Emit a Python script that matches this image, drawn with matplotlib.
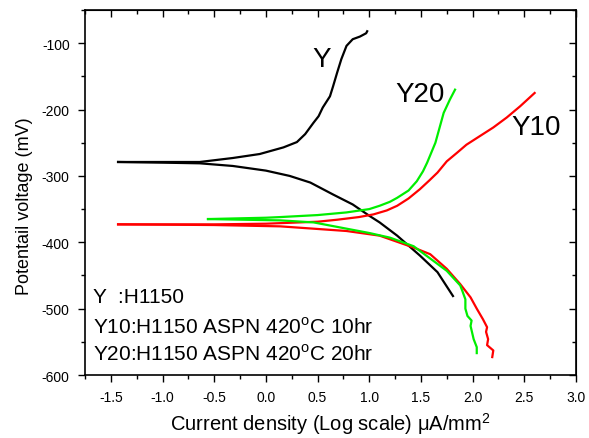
import numpy as np
import matplotlib
matplotlib.use("Agg")
import matplotlib.pyplot as plt
from matplotlib.ticker import MultipleLocator

plt.rcParams["font.family"] = ["Liberation Sans", "DejaVu Sans"]
plt.rcParams["mathtext.fontset"] = "custom"
plt.rcParams["mathtext.rm"] = "Liberation Sans"
plt.rcParams["axes.unicode_minus"] = False

# Y (H1150) - anodic and cathodic branches
y_an_x = [-1.43, -1.0, -0.64, -0.32, -0.06, 0.17, 0.30, 0.38, 0.46, 0.51, 0.55, 0.62,
          0.65, 0.69, 0.73, 0.78, 0.84, 0.91, 0.97, 0.98]
y_an_v = [-279, -279, -279, -273, -267, -257, -249, -237, -220, -210, -197, -180,
          -165, -144, -124, -104, -94, -90, -85, -82]
y_ca_x = [-1.43, -1.0, -0.64, -0.32, 0.0, 0.23, 0.43, 0.65, 0.84, 1.0, 1.10, 1.27,
          1.49, 1.66, 1.81]
y_ca_v = [-279, -280, -281, -285, -292, -300, -310, -328, -343, -360, -370, -390,
          -420, -445, -481]

# Y10
y10_an_x = [-1.43, -0.5, 0.0, 0.5, 0.69, 0.9, 1.04, 1.17, 1.27, 1.38, 1.49, 1.58,
            1.66, 1.75, 1.85, 1.94, 2.07, 2.20, 2.33, 2.46, 2.60]
y10_an_v = [-373, -373, -372, -369, -366, -362, -358, -352, -345, -334, -320, -307,
            -295, -278, -265, -253, -240, -227, -212, -195, -175]
y10_ca_x = [-1.43, -0.5, 0.14, 0.78, 1.10, 1.43, 1.59, 1.75, 1.88, 1.98, 2.04, 2.10,
            2.14, 2.13, 2.15, 2.14, 2.20, 2.19]
y10_ca_v = [-373, -374, -376, -383, -390, -408, -418, -440, -463, -483, -500, -516,
            -528, -535, -546, -555, -563, -573]

# Y20
y20_an_x = [-0.56, 0.0, 0.14, 0.5, 0.78, 1.0, 1.10, 1.20, 1.27, 1.38, 1.46, 1.52,
            1.56, 1.64, 1.72, 1.78, 1.83]
y20_an_v = [-365, -363, -362, -359, -355, -350, -345, -339, -333, -322, -308, -293,
            -280, -250, -205, -185, -170]
y20_ca_x = [-0.56, 0.14, 0.46, 1.0, 1.2, 1.43, 1.75, 1.88, 1.90, 1.93, 1.93, 1.95,
            1.99, 1.98, 2.01, 2.04, 2.04]
y20_ca_v = [-365, -367, -370, -386, -393, -406, -443, -465, -473, -486, -500, -511,
            -518, -526, -546, -558, -567]

fig = plt.figure(figsize=(5.89, 4.39), dpi=100)
ax = fig.add_axes([0.1443, 0.1435, 0.8336, 0.8314])

lw = 1.6
ax.plot(y_an_x, y_an_v, color="black", lw=lw)
ax.plot(y_ca_x, y_ca_v, color="black", lw=lw)
ax.plot(y10_an_x, y10_an_v, color="#ff0000", lw=lw)
ax.plot(y10_ca_x, y10_ca_v, color="#ff0000", lw=lw)
ax.plot(y20_an_x, y20_an_v, color="#00ee00", lw=lw)
ax.plot(y20_ca_x, y20_ca_v, color="#00ee00", lw=lw)

ax.text(0.54, -124, "Y", fontsize=20, ha="center", va="center")
ax.text(1.49, -177, "Y20", fontsize=20, ha="center", va="center")
ax.text(2.61, -227, "Y10", fontsize=20, ha="center", va="center")

ax.text(-1.67, -482, "Y  :H1150", fontsize=15, va="center")
ax.text(-1.67, -526, "Y10:H1150 ASPN 420$^{\\mathrm{o}}$C 10hr", fontsize=15, va="center")
ax.text(-1.67, -568, "Y20:H1150 ASPN 420$^{\\mathrm{o}}$C 20hr", fontsize=15, va="center")

ax.set_xlim(-1.75, 3.0)
ax.set_ylim(-600, -50)
ax.xaxis.set_major_locator(MultipleLocator(0.5))
ax.xaxis.set_minor_locator(MultipleLocator(0.25))
ax.yaxis.set_minor_locator(MultipleLocator(50))
ax.set_yticks(np.arange(-600, -99, 100))

ax.tick_params(which="both", direction="out", top=False, right=False, labelsize=10, width=1)
ax.tick_params(which="major", length=5, pad=6)
ax.tick_params(which="minor", length=3)
for s in ax.spines.values():
    s.set_linewidth(1.2)

# inward ticks on the top and right edges
sec_x = ax.secondary_xaxis("top")
sec_x.xaxis.set_major_locator(MultipleLocator(0.5))
sec_x.xaxis.set_minor_locator(MultipleLocator(0.25))
sec_x.tick_params(which="both", direction="in", labeltop=False, width=1)
sec_x.tick_params(which="major", length=5)
sec_x.tick_params(which="minor", length=3)
sec_y = ax.secondary_yaxis("right")
sec_y.yaxis.set_major_locator(MultipleLocator(100))
sec_y.yaxis.set_minor_locator(MultipleLocator(50))
sec_y.tick_params(which="both", direction="in", labelright=False, width=1)
sec_y.tick_params(which="major", length=5)
sec_y.tick_params(which="minor", length=3)

ax.set_xlabel("Current density (Log scale) μA/mm$^2$", fontsize=14.5, labelpad=4)
ax.set_ylabel("Potentail voltage (mV)", fontsize=13)
ax.yaxis.set_label_coords(-0.106, 0.466)

fig.savefig("out.png", dpi=100)
